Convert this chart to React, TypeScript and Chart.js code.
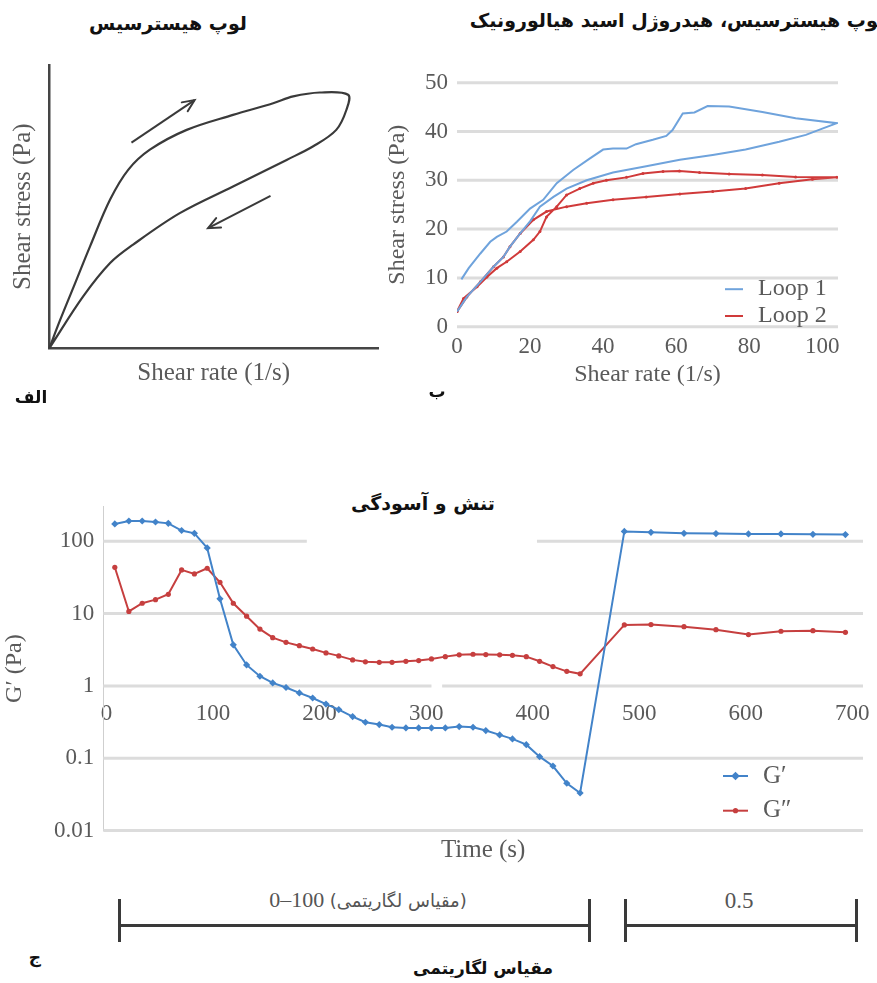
import React, { useEffect, useRef } from "react";
import { Chart, registerables } from "chart.js";

Chart.register(...registerables);

// ---------- Panel الف (schematic hysteresis loop) ----------
const sketchX = [0, 3.3, 7.4, 12.4, 18.5, 24, 30.6, 41.8, 55.9, 68.1, 74.2, 82.3, 90.9, 90.4, 87.3, 80.3, 72.2, 55.9, 39.7, 25.5, 18.5, 10.3, 0];
const sketchY = [0, 10, 21.7, 36, 52.5, 63, 70.1, 77.1, 82.4, 86.5, 88.9, 90.3, 89.5, 84.2, 77.1, 71.3, 66.5, 57.1, 47.7, 36.6, 30.1, 18.3, 0];
const arrowUpX = [25, 44.2];
const arrowUpY = [72.6, 87.6];
const arrowDownX = [67.3, 48.3];
const arrowDownY = [53.8, 42.4];

// ---------- Panel ب (hyaluronic acid hydrogel loops) ----------
const loop1X = [1.2, 3.2, 6.4, 9.1, 10.9, 13.6, 16.4, 20, 23.6, 27.3, 31.8, 36.4, 40, 42.7, 46.4, 49, 53.6, 57.3, 59, 61.8, 65, 68.6, 74.5, 83.6, 92.7, 104,
  100, 95.5, 88.2, 79, 70, 61, 51.8, 42.7, 35.5, 30, 26.4, 22.7, 20, 17.3, 14.5, 12.7, 10, 6.4, 2.7, 0];
const loop1Y = [9.7, 12, 15, 17.4, 18.4, 19.5, 21.5, 24.2, 26, 29.4, 32.1, 34.5, 36.3, 36.5, 36.5, 37.4, 38.3, 39.1, 40.3, 43.7, 43.9, 45.2, 45.1, 44, 42.7, 41.7,
  40.6, 39.3, 37.9, 36.3, 35.2, 34.2, 32.9, 31.6, 30, 28.3, 26.6, 24.6, 21.6, 19.1, 16.4, 14.3, 12.3, 9.2, 6.1, 3.1];
const loop2X = [0, 1.8, 5.5, 8.2, 10.9, 13.6, 17.3, 20.9, 22.7, 24.5, 27.3, 30, 33.6, 37.3, 40.9, 46.4, 50.9, 56.4, 60.9, 66.4, 74.5, 83.6, 92.7, 104,
  97.3, 88.2, 79, 70, 61, 51.8, 42.7, 35.5, 30, 24.5, 20.9, 17.3, 14.5, 12.7, 10, 6.4, 2.7, 0];
const loop2Y = [3.1, 5.8, 8.2, 10.2, 12, 13.3, 15.4, 17.8, 19.5, 22.5, 24.6, 27, 28.3, 29.4, 30, 30.6, 31.4, 31.8, 31.9, 31.6, 31.3, 31.1, 30.7, 30.6,
  30.2, 29.4, 28.3, 27.7, 27.2, 26.6, 26, 25.3, 24.6, 23.6, 21.9, 19.1, 16.4, 14.3, 12.3, 9.2, 6.1, 3.1];
const loopXTicks = [0, 20, 40, 60, 80, 100];
const loopYTicks = [0, 10, 20, 30, 40, 50];

// ---------- Panel ج (stress and relaxation) ----------
const timeS = [7.8, 21, 33.5, 46, 58, 70.5, 82.5, 94.5, 106.5, 119, 131.5, 144, 156, 168.5, 181, 193.5, 206,
  218, 231, 243, 256, 268, 281, 293, 305, 318, 331, 344, 356, 369, 381, 394, 406.5, 419, 432, 444.5,
  486, 511, 542, 572, 602.5, 633, 663, 693.5];
const gPrime = [174, 191, 191, 185, 177, 141, 129, 81, 16, 3.7, 1.95, 1.36, 1.1, 0.95, 0.8, 0.68, 0.56,
  0.47, 0.376, 0.314, 0.292, 0.268, 0.262, 0.262, 0.262, 0.262, 0.274, 0.268, 0.241, 0.21, 0.185, 0.154, 0.105, 0.078, 0.045, 0.033,
  137, 133, 129, 128, 126.6, 126.6, 125, 124];
const gDoublePrime = [43.7, 10.7, 13.9, 15.6, 18.5, 40.2, 35.4, 42.4, 27.1, 13.9, 9.2, 6.1, 4.65, 4.0, 3.6, 3.24, 2.86,
  2.6, 2.29, 2.15, 2.12, 2.12, 2.19, 2.24, 2.36, 2.54, 2.69, 2.74, 2.71, 2.69, 2.65, 2.54, 2.19, 1.85, 1.59, 1.47,
  6.98, 7.05, 6.6, 6.0, 5.13, 5.7, 5.8, 5.5];
const timeTicks = [0, 100, 200, 300, 400, 500, 600, 700];
const modulusTicks = [0.01, 0.1, 1, 10, 100];

// ---------- styling ----------
const SERIF = "'Liberation Serif', 'Times New Roman', serif";
const PERSIAN = "'DejaVu Sans', sans-serif";
const AXIS_TEXT = "#5a5a5a";
const GRID = "#dcdcdc";

const pts = (xs: number[], ys: number[]) => xs.map((x, i) => ({ x, y: ys[i] }));
const setTicks = (vals: number[]) => (s: any) => {
  s.ticks = vals.map((value) => ({ value }));
};
const fixSize = (dim: "width" | "height", size: number) => (s: any) => {
  s[dim] = size;
  s.paddingLeft = 0;
  s.paddingRight = 0;
  s.paddingTop = 0;
  s.paddingBottom = 0;
};

const arrowHeads = {
  id: "arrowHeads",
  afterDatasetsDraw(chart: any) {
    const ctx = chart.ctx;
    chart.data.datasets.forEach((ds: any, i: number) => {
      if (!ds.arrowHead) return;
      const el = chart.getDatasetMeta(i).data;
      const a = el[el.length - 2];
      const b = el[el.length - 1];
      const ang = Math.atan2(b.y - a.y, b.x - a.x);
      const L = 13;
      const sp = 0.42;
      ctx.save();
      ctx.strokeStyle = ds.borderColor;
      ctx.lineWidth = ds.borderWidth;
      ctx.lineCap = "round";
      ctx.beginPath();
      ctx.moveTo(b.x - L * Math.cos(ang - sp), b.y - L * Math.sin(ang - sp));
      ctx.lineTo(b.x, b.y);
      ctx.lineTo(b.x - L * Math.cos(ang + sp), b.y - L * Math.sin(ang + sp));
      ctx.stroke();
      ctx.restore();
    });
  },
};

// horizontal grid lines at the y ticks, with optional breaks given in x-data units
const gappedGrid = {
  id: "gappedGrid",
  beforeDatasetsDraw(chart: any, _a: any, opts: any) {
    if (!opts || !opts.show) return;
    const { ctx, chartArea, scales } = chart;
    const xs = scales.x;
    const ys = scales.y;
    ctx.save();
    ctx.strokeStyle = opts.color;
    ctx.lineWidth = opts.lineWidth;
    ys.ticks.forEach((t: any) => {
      const py = ys.getPixelForValue(t.value);
      const gaps = (opts.gaps || []).filter((g: any) => g.value === t.value)
        .map((g: any) => [xs.getPixelForValue(g.from), xs.getPixelForValue(g.to)])
        .sort((a: number[], b: number[]) => a[0] - b[0]);
      let start = chartArea.left;
      ctx.beginPath();
      gaps.forEach((g: number[]) => {
        ctx.moveTo(start, py);
        ctx.lineTo(g[0], py);
        start = g[1];
      });
      ctx.moveTo(start, py);
      ctx.lineTo(chartArea.right, py);
      ctx.stroke();
    });
    ctx.restore();
  },
};

const insideLegend = {
  id: "insideLegend",
  afterDraw(chart: any, _a: any, opts: any) {
    if (!opts || !opts.show) return;
    const { ctx, chartArea } = chart;
    const sets = chart.data.datasets;
    const n = sets.length;
    ctx.save();
    ctx.font = opts.font;
    ctx.textBaseline = "middle";
    ctx.textAlign = "left";
    sets.forEach((ds: any, i: number) => {
      const y = chartArea.bottom - opts.bottom - (n - 1 - i) * opts.rowGap;
      const x0 = chartArea.right + opts.right;
      ctx.strokeStyle = ds.borderColor;
      ctx.lineWidth = ds.borderWidth;
      ctx.beginPath();
      ctx.moveTo(x0, y);
      ctx.lineTo(x0 + opts.lineLen, y);
      ctx.stroke();
      if (opts.markers) {
        const cx = x0 + opts.lineLen / 2;
        const r = ds.pointRadius || 0;
        ctx.fillStyle = ds.borderColor;
        ctx.beginPath();
        if (ds.pointStyle === "rectRot") {
          ctx.moveTo(cx, y - r * 1.2);
          ctx.lineTo(cx + r * 1.2, y);
          ctx.lineTo(cx, y + r * 1.2);
          ctx.lineTo(cx - r * 1.2, y);
          ctx.closePath();
        } else {
          ctx.arc(cx, y, r, 0, Math.PI * 2);
        }
        ctx.fill();
      }
      ctx.fillStyle = opts.color;
      ctx.fillText(ds.label, x0 + opts.lineLen + opts.textGap, y);
    });
    ctx.restore();
  },
};

function configA(): any {
  const tfont = { family: SERIF, size: 25 };
  return {
    type: "scatter",
    data: {
      datasets: [
        { data: pts(sketchX, sketchY), showLine: true, borderColor: "#3a3a3a", borderWidth: 2.2, pointRadius: 0, tension: 0.35, clip: 6 },
        { data: pts(arrowUpX, arrowUpY), showLine: true, borderColor: "#3a3a3a", borderWidth: 2, pointRadius: 0, arrowHead: true },
        { data: pts(arrowDownX, arrowDownY), showLine: true, borderColor: "#3a3a3a", borderWidth: 2, pointRadius: 0, arrowHead: true },
      ],
    },
    options: {
      animation: false,
      responsive: false,
      devicePixelRatio: 1,
      layout: { padding: { left: 0, top: 25, right: 22, bottom: 0 } },
      plugins: { legend: { display: false }, tooltip: { enabled: false } },
      scales: {
        x: {
          type: "linear", min: 0, max: 100,
          ticks: { display: false },
          grid: { display: false, drawTicks: false },
          border: { display: true, color: "#454545", width: 2.5 },
          title: { display: true, text: "Shear rate (1/s)", color: AXIS_TEXT, font: tfont, padding: { top: 0, bottom: 12 } },
          afterFit: fixSize("height", 51.7),
        },
        y: {
          type: "linear", min: 0, max: 100,
          ticks: { display: false },
          grid: { display: false, drawTicks: false },
          border: { display: true, color: "#454545", width: 2.5 },
          title: { display: true, text: "Shear stress (Pa)", color: AXIS_TEXT, font: tfont, padding: { top: 8, bottom: 0 } },
          afterFit: fixSize("width", 49.3),
        },
      },
    },
    plugins: [arrowHeads],
  };
}

function configB(): any {
  const font = { family: SERIF, size: 23 };
  const tfont = { family: SERIF, size: 24 };
  return {
    type: "scatter",
    data: {
      datasets: [
        { label: "Loop 1", data: pts(loop1X, loop1Y), showLine: true, borderColor: "#6fa3dc", borderWidth: 2, pointRadius: 0 },
        { label: "Loop 2", data: pts(loop2X, loop2Y), showLine: true, borderColor: "#d03a3a", backgroundColor: "#d03a3a", borderWidth: 2, pointRadius: 1.5, pointBorderWidth: 0 },
      ],
    },
    options: {
      animation: false,
      responsive: false,
      devicePixelRatio: 1,
      layout: { padding: { left: 0, top: 22.7, right: 22, bottom: 0 } },
      plugins: {
        legend: { display: false },
        tooltip: { enabled: false },
        gappedGrid: { show: true, color: GRID, lineWidth: 3, gaps: [] },
        insideLegend: { show: true, font: `24px ${SERIF}`, color: AXIS_TEXT, right: -113, bottom: 10.7, rowGap: 26.8, lineLen: 18, textGap: 15, markers: false },
      },
      scales: {
        x: {
          type: "linear", min: 0, max: 104.3,
          afterBuildTicks: setTicks(loopXTicks),
          ticks: { padding: 6.2, color: AXIS_TEXT, font, maxRotation: 0, autoSkip: false },
          grid: { display: false, drawTicks: false },
          border: { display: false },
          title: { display: true, text: "Shear rate (1/s)", color: AXIS_TEXT, font: tfont, padding: { top: 0, bottom: 10.6 } },
          afterFit: fixSize("height", 73.3),
        },
        y: {
          type: "linear", min: 0, max: 50,
          afterBuildTicks: setTicks(loopYTicks),
          ticks: { padding: 9, color: AXIS_TEXT, font },
          grid: { display: false, drawTicks: false },
          border: { display: false },
          title: { display: true, text: "Shear stress (Pa)", color: AXIS_TEXT, font: tfont, padding: { top: 3.6, bottom: 0 } },
          afterFit: fixSize("width", 77),
        },
      },
    },
    plugins: [gappedGrid, insideLegend],
  };
}

function configC(): any {
  const font = { family: SERIF, size: 23 };
  return {
    type: "scatter",
    data: {
      datasets: [
        { label: "G′", data: pts(timeS, gPrime), showLine: true, borderColor: "#4283c9", backgroundColor: "#4283c9", borderWidth: 2, pointStyle: "rectRot", pointRadius: 3.6, pointBorderWidth: 0 },
        { label: "G″", data: pts(timeS, gDoublePrime), showLine: true, borderColor: "#c63f3f", backgroundColor: "#c63f3f", borderWidth: 2, pointStyle: "circle", pointRadius: 2.6, pointBorderWidth: 0 },
      ],
    },
    options: {
      animation: false,
      responsive: false,
      devicePixelRatio: 1,
      layout: { padding: { left: 0, top: 11.8, right: 14, bottom: 44.5 } },
      plugins: {
        legend: { display: false },
        tooltip: { enabled: false },
        gappedGrid: { show: true, color: GRID, lineWidth: 3, gaps: [{ value: 100, from: 188, to: 404 }, { value: 1, from: 305, to: 315 }] },
        insideLegend: { show: true, font: `25px ${SERIF}`, color: AXIS_TEXT, right: -140, bottom: 19.8, rowGap: 34.7, lineLen: 25, textGap: 15, markers: true },
      },
      scales: {
        x: {
          type: "linear", min: -3, max: 710,
          position: { y: 1 },
          afterBuildTicks: setTicks(timeTicks),
          ticks: { padding: 14.5, color: AXIS_TEXT, font, maxRotation: 0, autoSkip: false, callback: (v: any) => String(v) },
          grid: { display: false, drawTicks: false },
          border: { display: false },
          title: { display: true, text: "Time (s)", color: AXIS_TEXT, font: { family: SERIF, size: 25 }, padding: 0 },
          afterFit: fixSize("height", 179.3),
        },
        y: {
          type: "logarithmic", min: 0.01, max: 300,
          afterBuildTicks: setTicks(modulusTicks),
          ticks: { padding: 9, color: AXIS_TEXT, font, callback: (v: any) => String(v) },
          grid: { display: false, drawTicks: false },
          border: { display: true, color: "#cfcfcf", width: 1 },
          title: { display: true, text: "G′ (Pa)", color: AXIS_TEXT, font: { family: SERIF, size: 24 }, padding: 0 },
          afterFit: fixSize("width", 103.3),
        },
      },
    },
    plugins: [gappedGrid, insideLegend],
  };
}

function ChartCanvas(props: { make: () => any; left: number; top: number; width: number; height: number }) {
  const ref = useRef<HTMLCanvasElement>(null);
  useEffect(() => {
    const chart = new Chart(ref.current as HTMLCanvasElement, props.make());
    return () => chart.destroy();
  }, []);
  return (
    <canvas
      ref={ref}
      width={props.width}
      height={props.height}
      style={{ position: "absolute", left: props.left, top: props.top, width: props.width, height: props.height }}
    />
  );
}

function Label(props: { x: number; y: number; text: string; size?: number; bold?: boolean; family?: string; color?: string; dir?: "rtl" | "ltr" }) {
  return (
    <div
      dir={props.dir || "rtl"}
      style={{
        position: "absolute",
        left: props.x,
        top: props.y,
        transform: "translate(-50%, -50%)",
        whiteSpace: "nowrap",
        fontFamily: props.family || PERSIAN,
        fontSize: props.size || 17,
        fontWeight: props.bold === false ? 400 : 700,
        color: props.color || "#111",
        lineHeight: 1,
      }}
    >
      {props.text}
    </div>
  );
}

const barLine = (left: number, top: number, width: number, height: number) => (
  <div style={{ position: "absolute", left, top, width, height, background: "#3a3a3a" }} />
);

export default function App() {
  return (
    <div style={{ position: "absolute", left: 0, top: 0, width: 877, height: 983, overflow: "hidden", background: "#fff" }}>
      <Label x={168} y={23} text="لوپ هیسترسیس" size={19} />
      <div
        dir="rtl"
        style={{ position: "absolute", right: -8, top: 20, transform: "translateY(-50%)", whiteSpace: "nowrap", fontFamily: PERSIAN, fontSize: 19, fontWeight: 700, color: "#111", lineHeight: 1 }}
      >
        لوپ هیسترسیس، هیدروژل اسید هیالورونیک
      </div>

      <ChartCanvas make={configA} left={0} top={40} width={400} height={360} />
      <ChartCanvas make={configB} left={380} top={60} width={480} height={340} />

      <Label x={31} y={397} text="الف" />
      <Label x={437} y={391} text="ب" />

      <Label x={423} y={503} text="تنش و آسودگی" size={19} />
      <ChartCanvas make={configC} left={0} top={495} width={877} height={380} />

      <div style={{ position: "absolute", left: 368, top: 900, transform: "translate(-50%, -50%)", whiteSpace: "nowrap", color: "#555", lineHeight: 1 }}>
        <span style={{ fontFamily: SERIF, fontSize: 22 }}>0–100</span>
        <span style={{ fontFamily: SERIF, fontSize: 22 }}>  </span>
        <span dir="rtl" style={{ fontFamily: PERSIAN, fontSize: 18, unicodeBidi: "isolate" }}>(مقیاس لگاریتمی)</span>
      </div>
      <div style={{ position: "absolute", left: 739, top: 900, transform: "translate(-50%, -50%)", whiteSpace: "nowrap", color: "#555", fontFamily: SERIF, fontSize: 23, lineHeight: 1 }}>
        0.5
      </div>
      {barLine(119, 924, 470, 2.5)}
      {barLine(118, 899, 2.5, 43)}
      {barLine(588, 899, 2.5, 43)}
      {barLine(625, 924, 231, 2.5)}
      {barLine(624, 899, 2.5, 43)}
      {barLine(855, 899, 2.5, 43)}

      <Label x={35} y={957} text="ج" />
      <Label x={483} y={968} text="مقیاس لگاریتمی" />
    </div>
  );
}
